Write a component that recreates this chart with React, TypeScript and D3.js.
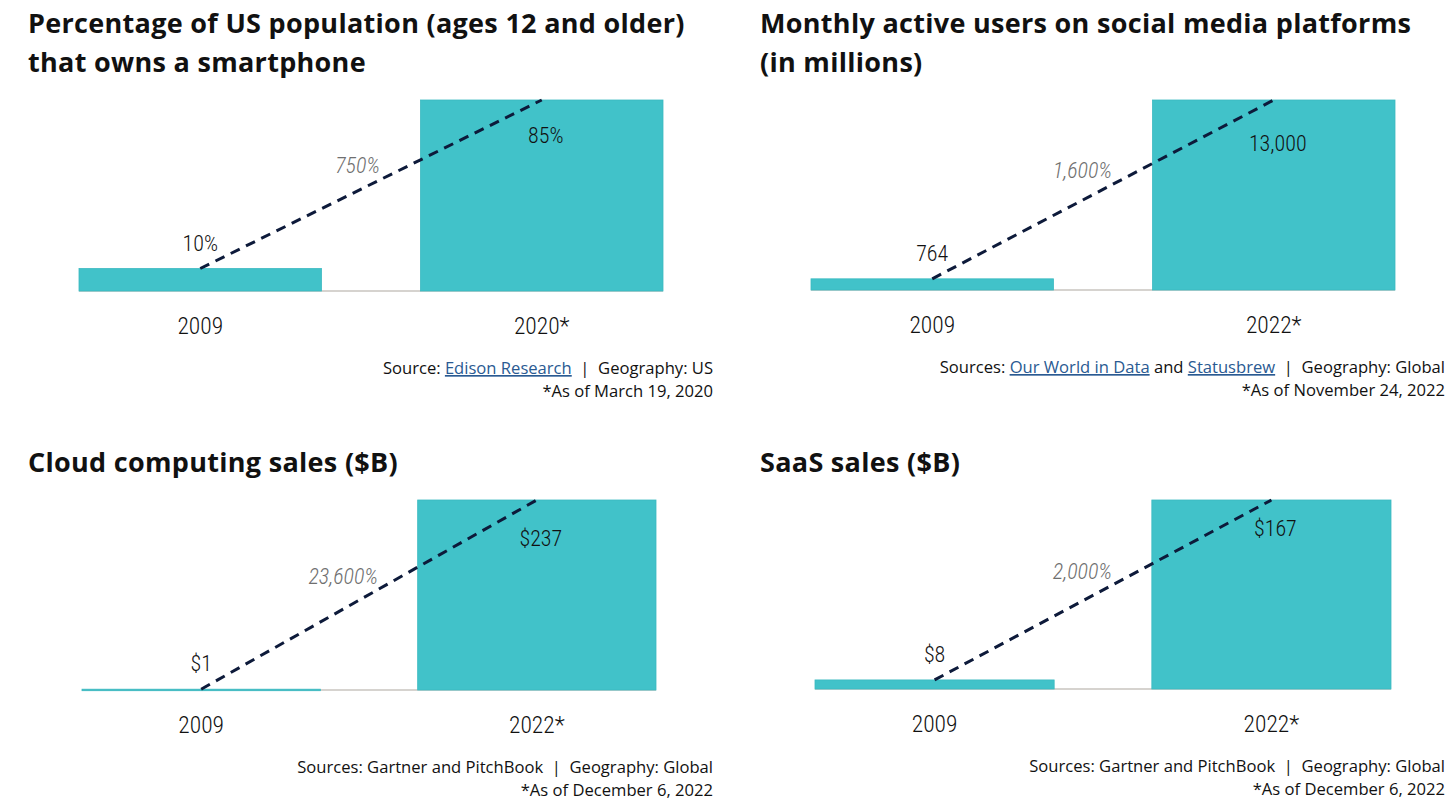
import React from "react";
import * as d3 from "d3";

// ---------- data ----------
const smartphoneYears = ["2009", "2020*"];
const smartphoneValues = [10, 85];
const socialYears = ["2009", "2022*"];
const socialValues = [764, 13000];
const cloudYears = ["2009", "2022*"];
const cloudValues = [1, 237];
const saasYears = ["2009", "2022*"];
const saasValues = [8, 167];

const growthLabels = ["750%", "1,600%", "23,600%", "2,000%"];

const titles = [
  ["Percentage of US population (ages 12 and older)", "that owns a smartphone"],
  ["Monthly active users on social media platforms", "(in millions)"],
  ["Cloud computing sales ($B)"],
  ["SaaS sales ($B)"],
];

type Seg = { t: string; link?: boolean };
const sources: Seg[][] = [
  [{ t: "Source: " }, { t: "Edison Research", link: true }, { t: "\u00a0 |\u00a0 Geography: US" }],
  [
    { t: "Sources: " },
    { t: "Our World in Data", link: true },
    { t: " and " },
    { t: "Statusbrew", link: true },
    { t: "\u00a0 |\u00a0 Geography: Global" },
  ],
  [{ t: "Sources: Gartner and PitchBook\u00a0 |\u00a0 Geography: Global" }],
  [{ t: "Sources: Gartner and PitchBook\u00a0 |\u00a0 Geography: Global" }],
];
const footnotes = [
  "*As of March 19, 2020",
  "*As of November 24, 2022",
  "*As of December 6, 2022",
  "*As of December 6, 2022",
];

const fmtPct = (v: number) => `${v}%`;
const fmtNum = (v: number) => d3.format(",")(v);
const fmtUsd = (v: number) => `$${d3.format(",")(v)}`;

const panels = [
  { years: smartphoneYears, values: smartphoneValues, fmt: fmtPct },
  { years: socialYears, values: socialValues, fmt: fmtNum },
  { years: cloudYears, values: cloudValues, fmt: fmtUsd },
  { years: saasYears, values: saasValues, fmt: fmtUsd },
];

// ---------- layout ----------
const layouts = [
  { x0: 79, x1: 663, base: 291, top: 100, titleX: 28, titleY: 33, srcX: 713, labelDy: 43 },
  { x0: 811, x1: 1395, base: 290, top: 100, titleX: 760, titleY: 33, srcX: 1445, labelDy: 51 },
  { x0: 82, x1: 656, base: 690, top: 500, titleX: 28, titleY: 472, srcX: 713, labelDy: 46 },
  { x0: 815, x1: 1391, base: 689, top: 500, titleX: 760, titleY: 472, srcX: 1445, labelDy: 36 },
];

const TEAL = "#41c2c9";
const NAVY = "#0d1a3a";
const LINK = "#2a5a92";
const TITLE_FONT = "'Open Sans', Lato, sans-serif";
const NUM_FONT = "Roboto, 'Noto Sans', sans-serif";
const SRC_FONT = "'Open Sans', 'Noto Sans', sans-serif";

const numStyle: React.CSSProperties = { fontStretch: "condensed" };

function Panel({ i }: { i: number }) {
  const p = panels[i];
  const L = layouts[i];
  const x = d3.scaleBand<string>().domain(p.years).range([L.x0, L.x1]).paddingInner(0.29).paddingOuter(0);
  const y = d3.scaleLinear().domain([0, d3.max(p.values)!]).range([L.base, L.top]);
  const bw = x.bandwidth();
  const cx = (k: number) => x(p.years[k])! + bw / 2;
  const linePts: [number, number][] = [
    [cx(0), y(p.values[0])],
    [cx(1), y(p.values[1])],
  ];
  const line = d3.line()(linePts)!;
  const mid = [(linePts[0][0] + linePts[1][0]) / 2, (linePts[0][1] + linePts[1][1]) / 2];
  const axisY = L.base + 43;

  return (
    <g>
      {titles[i].map((t, k) => (
        <text
          key={k}
          x={L.titleX}
          y={L.titleY + k * 39}
          fontFamily={TITLE_FONT}
          fontWeight={700}
          fontSize={27}
          letterSpacing={0.3}
          fill="#111"
        >
          {t}
        </text>
      ))}
      <line x1={L.x0} x2={L.x1} y1={L.base} y2={L.base} stroke="#c8c4bf" strokeWidth={1.5} />
      {p.values.map((v, k) => (
        <rect
          key={k}
          x={x(p.years[k])}
          y={y(v)}
          width={bw}
          height={Math.max(1.5, L.base - y(v))}
          fill={TEAL}
          stroke="#3bbac1"
          strokeWidth={0.8}
        />
      ))}
      <path d={line} fill="none" stroke={NAVY} strokeWidth={3} strokeDasharray="10 7" />
      <text
        x={cx(0)}
        y={y(p.values[0]) - 18}
        textAnchor="middle"
        fontFamily={NUM_FONT}
        fontWeight={300}
        fontSize={22}
        fill="#111"
        style={numStyle}
      >
        {p.fmt(p.values[0])}
      </text>
      <text
        x={cx(1) + 4}
        y={y(p.values[1]) + L.labelDy}
        textAnchor="middle"
        fontFamily={NUM_FONT}
        fontWeight={300}
        fontSize={22}
        fill="#111"
        style={numStyle}
      >
        {p.fmt(p.values[1])}
      </text>
      <text
        x={mid[0] + 9}
        y={mid[1] - 11}
        textAnchor="end"
        fontFamily={NUM_FONT}
        fontWeight={300}
        fontStyle="italic"
        fontSize={22}
        fill="#6f6f6f"
        style={numStyle}
      >
        {growthLabels[i]}
      </text>
      {p.years.map((yr, k) => (
        <text
          key={k}
          x={cx(k)}
          y={axisY}
          textAnchor="middle"
          fontFamily={NUM_FONT}
          fontWeight={300}
          fontSize={23.5}
          fill="#111"
          style={numStyle}
        >
          {yr}
        </text>
      ))}
      <text x={L.srcX} y={L.base + 83} textAnchor="end" fontFamily={SRC_FONT} fontSize={16.6} fill="#111">
        {sources[i].map((s, k) => (
          <tspan
            key={k}
            fill={s.link ? LINK : "#111"}
            style={s.link ? { textDecoration: "underline" } : undefined}
          >
            {s.t}
          </tspan>
        ))}
      </text>
      <text x={L.srcX} y={L.base + 106} textAnchor="end" fontFamily={SRC_FONT} fontSize={16.6} fill="#111">
        {footnotes[i]}
      </text>
    </g>
  );
}

export default function App() {
  return (
    <svg
      width={1456}
      height={806}
      viewBox="0 0 1456 806"
      style={{ position: "absolute", left: 0, top: 0, background: "#fff" }}
    >
      <rect width={1456} height={806} fill="#fff" />
      {panels.map((_, i) => (
        <Panel key={i} i={i} />
      ))}
    </svg>
  );
}
